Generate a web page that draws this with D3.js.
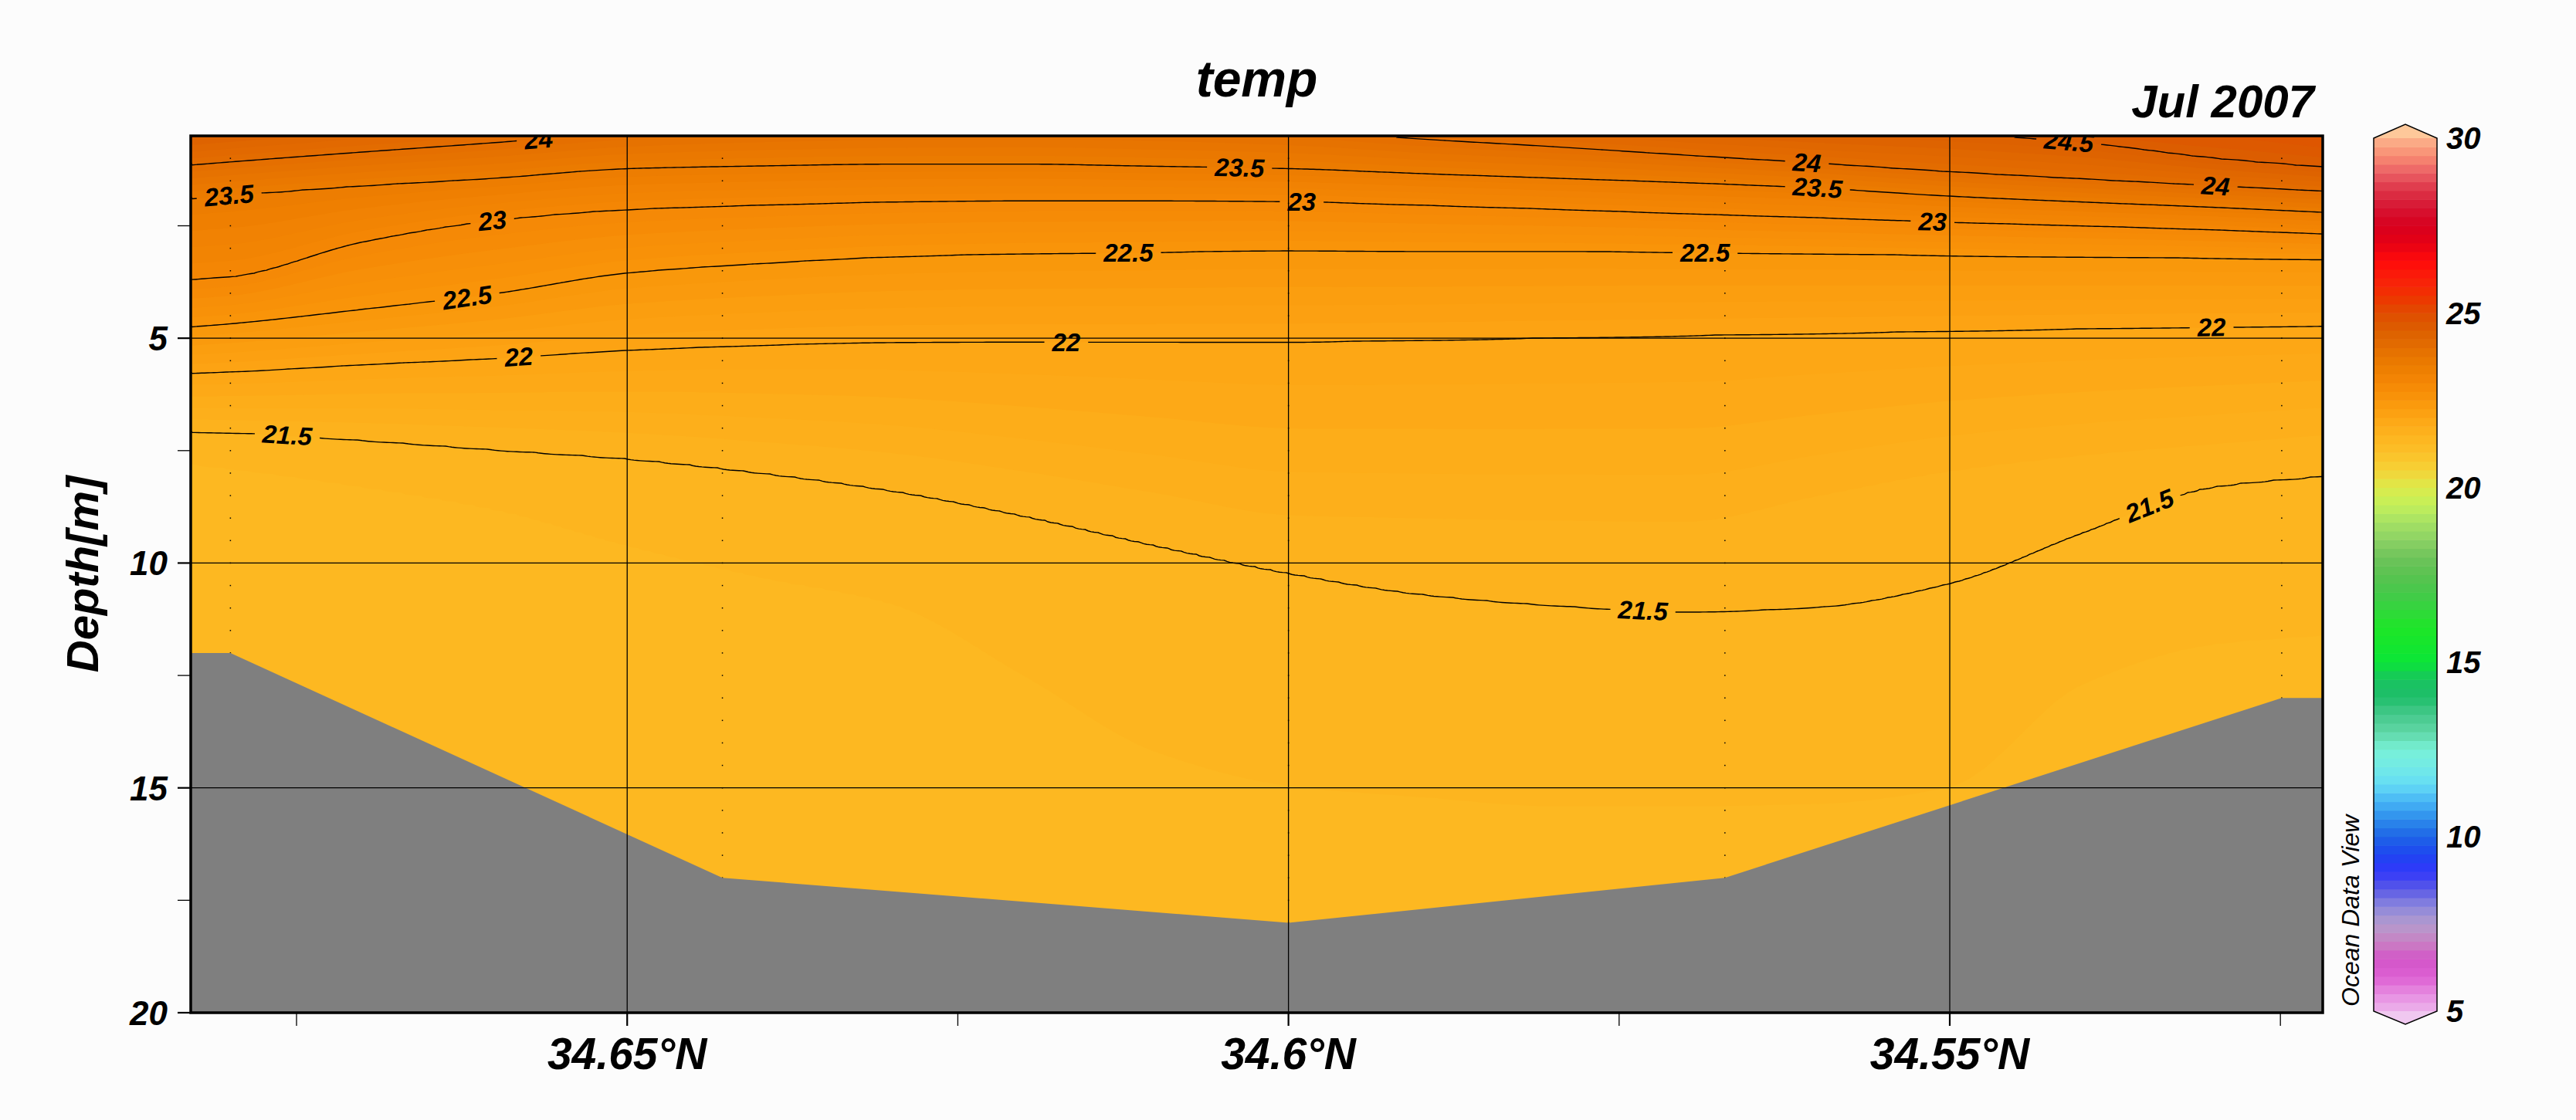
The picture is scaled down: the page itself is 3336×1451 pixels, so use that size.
<!DOCTYPE html>
<html><head><meta charset="utf-8">
<script src="https://cdn.jsdelivr.net/npm/d3@7"></script>
<style>
html,body{margin:0;padding:0;background:#fcfcfc;}
svg{display:block;}
text{font-family:"Liberation Sans",Arial,Helvetica,sans-serif;}
</style></head><body>
<svg id="chart" width="3336" height="1451"></svg>
<script>
// ---------------- DATA ----------------
// gridded section columns (latitude, °N)
const colLats = [34.683, 34.68, 34.67, 34.66, 34.65, 34.64, 34.63, 34.62, 34.61, 34.60, 34.59, 34.58, 34.57, 34.56, 34.55, 34.54, 34.53, 34.5218];
// depth (m) of each isotherm at every column, read from the section
// (values above 0.5 m lie above the top of the section)
const isoLevels = [25, 24.5, 24, 23.5, 23, 22.5, 22, 21.6, 21.5, 21.4, 21.3];
const iso250 = [-0.33, -0.41, -0.64, -0.85, -1.20, -1.48, -1.57, -1.65, -1.65, -1.37, -0.97, -0.66, -0.50, -0.41, -0.40, -0.16, -0.20, 0.10];
const iso245 = [0.41, 0.34, 0.11, -0.10, -0.39, -0.59, -0.67, -0.72, -0.71, -0.51, -0.20, 0.04, 0.21, 0.35, 0.45, 0.65, 1.00, 1.20];
const iso240 = [1.15, 1.08, 0.86, 0.65, 0.42, 0.29, 0.23, 0.20, 0.24, 0.36, 0.57, 0.74, 0.93, 1.11, 1.30, 1.46, 1.61, 1.73];
const iso235 = [1.89, 1.82, 1.61, 1.44, 1.23, 1.17, 1.13, 1.13, 1.18, 1.23, 1.34, 1.44, 1.54, 1.66, 1.84, 1.97, 2.09, 2.20];
const iso230 = [3.70, 3.64, 2.86, 2.38, 2.14, 2.04, 1.97, 1.94, 1.94, 1.96, 2.04, 2.13, 2.23, 2.32, 2.42, 2.50, 2.59, 2.68];
const iso225 = [4.75, 4.68, 4.36, 4.01, 3.55, 3.34, 3.19, 3.12, 3.09, 3.05, 3.07, 3.07, 3.09, 3.12, 3.16, 3.19, 3.22, 3.24];
const iso220 = [5.78, 5.75, 5.59, 5.45, 5.27, 5.16, 5.09, 5.08, 5.08, 5.08, 5.04, 4.99, 4.94, 4.89, 4.84, 4.79, 4.75, 4.73];
const iso216 = [6.80, 6.82, 6.88, 6.98, 7.10, 7.30, 7.55, 7.96, 8.44, 8.93, 9.00, 9.05, 9.07, 8.50, 7.95, 7.60, 7.35, 7.15];
const iso215 = [7.08, 7.10, 7.27, 7.48, 7.68, 7.99, 8.39, 8.95, 9.61, 10.22, 10.69, 10.94, 11.08, 10.98, 10.45, 9.33, 8.30, 8.06];
const iso214 = [7.80, 7.90, 8.30, 8.80, 9.60, 10.30, 10.90, 12.50, 14.20, 14.95, 15.20, 15.40, 15.40, 15.35, 14.97, 12.70, 11.80, 11.60];
const iso213 = [10.40, 10.50, 13.60, 18.00, 20.00, 21.00, 21.00, 21.00, 21.00, 22.00, 22.00, 22.00, 22.00, 22.00, 21.00, 20.00, 20.00, 20.00];

// stations and bottom depth
const stationLats   = [34.680, 34.6428, 34.600, 34.567, 34.5249];
const stationBottom = [12, 17, 18, 17, 13];
const sampleDepths  = [0.5,1,1.5,2,2.5,3,3.5,4,4.5,5,5.5,6,6.5,7,7.5,8,8.5,9,9.5,10,10.5,11,11.5,12,12.5,13,13.5,14,14.5,15,15.5,16,16.5,17,17.5,18];
const bathyLats     = [34.683, 34.680, 34.6428, 34.600, 34.567, 34.5249, 34.5218];
const bathyDepths   = [12, 12, 17, 18, 17, 13, 13];

// axes
const xTickMajor  = [34.65, 34.6, 34.55];
const xTickLabels = ["34.65°N", "34.6°N", "34.55°N"];
const xTickMinor  = [34.675, 34.625, 34.575, 34.525];
const yTickMajor  = [5, 10, 15, 20];
const yTickMinor  = [2.5, 7.5, 12.5, 17.5];
const yGrid       = [5, 10, 15];
const cbTicks     = [5, 10, 15, 20, 25, 30];

// contour lines and their labels
const contourLevels = [21.5, 22, 22.5, 23, 23.5, 24, 24.5];
const labelLevels = [24, 23.5, 23, 22.5, 22, 21.5, 23.5, 23, 22.5, 22, 21.5, 24, 23.5, 23, 22.5, 24.5, 24, 22, 21.5];
const labelLats   = [34.6567, 34.6801, 34.6602, 34.6621, 34.6582, 34.6757, 34.6037, 34.5990, 34.6121, 34.6168, 34.5732, 34.5608, 34.5600, 34.5513, 34.5685, 34.5410, 34.5299, 34.5302, 34.5349];

// ODV-like palette
const paletteValues = [5,5.5,6,6.5,7,7.5,8,8.5,9,9.5,10,10.5,11,11.5,12,12.5,13,13.5,14,14.5,15,15.5,16,16.5,17,17.5,18,18.5,19,19.5,20,20.5,21,21.5,22,22.5,23,23.5,24,24.5,25,25.5,26,26.5,27,27.5,28,28.5,29,29.5,30];
const paletteColors = ["#ecb4ec","#e68ce1","#dc5fd2","#d255c8","#c882c3","#b49bcd","#8c87dc","#5a5ae6","#3237fa","#1e46f0","#1e64e6","#2d8ceb","#46b4f5","#64dcf5","#73ebe6","#78f0d7","#5fd7a5","#46c88c","#1ebe69","#19c35f","#0ae637","#14e62d","#1ee628","#32d73c","#46c84b","#5ac350","#6ec35a","#8cd264","#a5e164","#c3f05a","#dceb4b","#f5d237","#fcc028","#fdb41e","#fda514","#f9960a","#f58705","#ec7c00","#e46e00","#dc5f00","#e04c00","#f03200","#fa1e0a","#ff0a0a","#e60014","#d7001e","#d71432","#dc3246","#eb5f64","#f88c73","#fcb48c"];

// ---------------- LAYOUT ----------------
const X0 = 247, X1 = 3008, Y0 = 176, Y1 = 1312;
const x = d3.scaleLinear().domain([34.683, 34.5218]).range([X0, X1]);
const y = d3.scaleLinear().domain([0.5, 20]).range([Y0, Y1]);
const color = d3.scaleLinear().domain(paletteValues).range(paletteColors).interpolate(d3.interpolateRgb).clamp(true);

const svg = d3.select("#chart");
svg.append("rect").attr("width", 3336).attr("height", 1451).attr("fill", "#fcfcfc");
const defs = svg.append("defs");
defs.append("clipPath").attr("id", "plotclip").append("rect")
  .attr("x", X0).attr("y", Y0).attr("width", X1 - X0).attr("height", Y1 - Y0);

// ---------------- FIELD ----------------
function monotoneSpline(xs, ys) {
  const n = xs.length, dx = [], s = [], m = new Array(n);
  for (let i = 0; i < n - 1; i++) { dx[i] = xs[i + 1] - xs[i]; s[i] = (ys[i + 1] - ys[i]) / dx[i]; }
  m[0] = s[0]; m[n - 1] = s[n - 2];
  for (let i = 1; i < n - 1; i++) {
    if (s[i - 1] * s[i] <= 0) m[i] = 0;
    else { const w1 = 2 * dx[i] + dx[i - 1], w2 = dx[i] + 2 * dx[i - 1]; m[i] = (w1 + w2) / (w1 / s[i - 1] + w2 / s[i]); }
  }
  return function (xv) {
    let i = 0;
    if (xv <= xs[0]) i = 0; else if (xv >= xs[n - 1]) i = n - 2;
    else while (i < n - 2 && xv > xs[i + 1]) i++;
    const h = dx[i], t = Math.max(0, Math.min(1, (xv - xs[i]) / h));
    const t2 = t * t, t3 = t2 * t;
    return (2 * t3 - 3 * t2 + 1) * ys[i] + (t3 - 2 * t2 + t) * h * m[i] + (-2 * t3 + 3 * t2) * ys[i + 1] + (t3 - t2) * h * m[i + 1];
  };
}
const colX = colLats.map(l => x(l));
const isoArrays = [iso250, iso245, iso240, iso235, iso230, iso225, iso220, iso216, iso215, iso214, iso213];
const splines = isoArrays.map(a => monotoneSpline(colX, a));
function knotsAt(px) {
  const ds = splines.map(f => f(px));
  for (let i = 1; i < ds.length; i++) if (ds[i] < ds[i - 1] + 0.01) ds[i] = ds[i - 1] + 0.01;
  return ds;
}
function profile(ds, d) {
  const L = isoLevels;
  if (d <= ds[0]) return L[0] + (L[1] - L[0]) * (d - ds[0]) / (ds[1] - ds[0]);
  for (let i = 1; i < ds.length; i++) {
    if (d <= ds[i]) return L[i - 1] + (L[i] - L[i - 1]) * (d - ds[i - 1]) / (ds[i] - ds[i - 1]);
  }
  return L[L.length - 1];
}
function field(lat, d) { return profile(knotsAt(x(lat)), d); }

const CW = 4;
const nx = Math.ceil((X1 - X0) / CW), ny = Math.ceil((Y1 - Y0) / CW);
const vals = new Float64Array(nx * ny);
let vmin = Infinity;
for (let i = 0; i < nx; i++) {
  const ds = knotsAt(X0 + (i + 0.5) * CW);
  for (let j = 0; j < ny; j++) {
    const v = profile(ds, y.invert(Y0 + (j + 0.5) * CW));
    vals[j * nx + i] = v;
    if (v < vmin) vmin = v;
  }
}
const gridPath = d3.geoPath(d3.geoTransform({
  point: function (px, py) { this.stream.point(X0 + px * CW, Y0 + py * CW); }
}));

const plot = svg.append("g").attr("clip-path", "url(#plotclip)");
plot.append("rect").attr("x", X0).attr("y", Y0).attr("width", X1 - X0).attr("height", Y1 - Y0)
  .attr("fill", color(vmin));
const bandTh = d3.range(200, 256).map(v => v / 10);
const bands = d3.contours().size([nx, ny]).thresholds(bandTh)(vals);
plot.append("g").selectAll("path").data(bands).join("path")
  .attr("d", gridPath).attr("fill", d => color(d.value + 0.05)).attr("stroke", "none");

// ---------------- CONTOUR LABELS ----------------
function isoDepth(level, lat) {
  let prev = field(lat, 0.5);
  for (let d = 0.51; d <= 20; d += 0.01) {
    const v = field(lat, d);
    if ((prev - level) * (v - level) <= 0) return d - 0.005;
    prev = v;
  }
  return null;
}
const labels = labelLevels.map((lv, i) => {
  const lat = labelLats[i];
  const px = x(lat);
  const dd = isoDepth(lv, lat);
  const dA = isoDepth(lv, x.invert(px - 14)), dB = isoDepth(lv, x.invert(px + 14));
  let ang = 0;
  if (dA != null && dB != null) ang = Math.atan2(y(dB) - y(dA), 28) * 180 / Math.PI;
  return { level: lv, px: px, py: y(dd == null ? 0.5 : dd), ang: ang };
});

const mask = defs.append("mask").attr("id", "lblmask").attr("maskUnits", "userSpaceOnUse")
  .attr("x", 0).attr("y", 0).attr("width", 3336).attr("height", 1451);
mask.append("rect").attr("x", 0).attr("y", 0).attr("width", 3336).attr("height", 1451).attr("fill", "white");

const lines = d3.contours().size([nx, ny]).thresholds(contourLevels)(vals);
plot.append("g").attr("mask", "url(#lblmask)").selectAll("path").data(lines).join("path")
  .attr("d", gridPath).attr("fill", "none").attr("stroke", "#000").attr("stroke-width", 1.4);

// station sample dots
const dots = [];
stationLats.forEach((lat, s) => sampleDepths.forEach(d => { if (d <= stationBottom[s]) dots.push([lat, d]); }));
plot.append("g").selectAll("rect").data(dots).join("rect")
  .attr("x", d => x(d[0]) - 0.75).attr("y", d => y(d[1]) - 0.75).attr("width", 1.5).attr("height", 1.5).attr("fill", "#000");

// bathymetry
const bathyPts = bathyLats.map((l, i) => [x(l), y(bathyDepths[i])]);
bathyPts.push([x(34.5218), y(20) + 5], [x(34.683), y(20) + 5]);
plot.append("path").attr("d", d3.line()(bathyPts) + "Z").attr("fill", "#7f7f7f");

// grid lines
plot.append("g").selectAll("line").data(xTickMajor).join("line")
  .attr("x1", d => x(d)).attr("x2", d => x(d)).attr("y1", Y0).attr("y2", Y1)
  .attr("stroke", "#000").attr("stroke-width", 1.3);
plot.append("g").selectAll("line").data(yGrid).join("line")
  .attr("x1", X0).attr("x2", X1).attr("y1", d => y(d)).attr("y2", d => y(d))
  .attr("stroke", "#000").attr("stroke-width", 1.3);

// labels text
const lblG = plot.append("g");
const lblText = lblG.selectAll("text").data(labels).join("text")
  .attr("transform", d => `translate(${d.px},${d.py}) rotate(${d.ang})`)
  .attr("text-anchor", "middle").attr("dy", "0.35em")
  .attr("font-size", 33).attr("font-weight", "bold").attr("font-style", "italic").attr("fill", "#000")
  .text(d => String(d.level));
lblText.each(function (d) {
  const w = this.getComputedTextLength();
  mask.append("rect").attr("x", -w / 2 - 10).attr("y", -16).attr("width", w + 20).attr("height", 32)
    .attr("fill", "black").attr("transform", `translate(${d.px},${d.py}) rotate(${d.ang})`);
});

// frame
svg.append("rect").attr("x", X0).attr("y", Y0).attr("width", X1 - X0).attr("height", Y1 - Y0)
  .attr("fill", "none").attr("stroke", "#000").attr("stroke-width", 3.5);

// ---------------- AXES ----------------
const ax = svg.append("g");
ax.selectAll("line.xM").data(xTickMajor).join("line").attr("class", "xM")
  .attr("x1", d => x(d)).attr("x2", d => x(d)).attr("y1", Y1).attr("y2", Y1 + 17)
  .attr("stroke", "#000").attr("stroke-width", 2.2);
ax.selectAll("line.xm").data(xTickMinor).join("line").attr("class", "xm")
  .attr("x1", d => x(d)).attr("x2", d => x(d)).attr("y1", Y1).attr("y2", Y1 + 17)
  .attr("stroke", "#000").attr("stroke-width", 1.3);
ax.selectAll("text.xl").data(xTickMajor).join("text").attr("class", "xl")
  .attr("x", d => x(d)).attr("y", 1385).attr("text-anchor", "middle")
  .attr("font-size", 57).attr("font-weight", "bold").attr("font-style", "italic")
  .text((d, i) => xTickLabels[i]);
ax.selectAll("line.yM").data(yTickMajor).join("line").attr("class", "yM")
  .attr("x1", X0 - 17).attr("x2", X0).attr("y1", d => y(d)).attr("y2", d => y(d))
  .attr("stroke", "#000").attr("stroke-width", 2.2);
ax.selectAll("line.ym").data(yTickMinor).join("line").attr("class", "ym")
  .attr("x1", X0 - 17).attr("x2", X0).attr("y1", d => y(d)).attr("y2", d => y(d))
  .attr("stroke", "#000").attr("stroke-width", 1.3);
ax.selectAll("text.yl").data(yTickMajor).join("text").attr("class", "yl")
  .attr("x", 217).attr("y", d => y(d)).attr("dy", "0.36em").attr("text-anchor", "end")
  .attr("font-size", 44).attr("font-weight", "bold").attr("font-style", "italic")
  .text(d => d);
svg.append("text").attr("transform", "translate(127,744) rotate(-90)").attr("text-anchor", "middle")
  .attr("font-size", 58).attr("font-weight", "bold").attr("font-style", "italic").text("Depth[m]");

// titles
svg.append("text").attr("x", (X0 + X1) / 2).attr("y", 125).attr("text-anchor", "middle")
  .attr("font-size", 66).attr("font-weight", "bold").attr("font-style", "italic").text("temp");
svg.append("text").attr("x", 2997).attr("y", 152).attr("text-anchor", "end")
  .attr("font-size", 60).attr("font-weight", "bold").attr("font-style", "italic").text("Jul 2007");

// ---------------- COLORBAR ----------------
const CB0 = 3074, CB1 = 3156;
const cb = d3.scaleLinear().domain([5, 30]).range([1310, 179]);
const cbSteps = d3.range(20, 120).map(v => v / 4);
const cbG = svg.append("g");
cbG.selectAll("rect").data(cbSteps).join("rect")
  .attr("x", CB0).attr("width", CB1 - CB0)
  .attr("y", d => cb(d + 0.25)).attr("height", d => cb(d) - cb(d + 0.25) + 0.6)
  .attr("fill", d => color(d + 0.125));
const mid = (CB0 + CB1) / 2;
cbG.append("path").attr("d", `M${CB0},${cb(30)} L${mid},${cb(30) - 18} L${CB1},${cb(30)} Z`).attr("fill", "#fec89a");
cbG.append("path").attr("d", `M${CB0},${cb(5)} L${mid},${cb(5) + 17} L${CB1},${cb(5)} Z`).attr("fill", "#f0c8f0");
cbG.append("path")
  .attr("d", `M${CB0},${cb(30)} L${mid},${cb(30) - 18} L${CB1},${cb(30)} L${CB1},${cb(5)} L${mid},${cb(5) + 17} L${CB0},${cb(5)} Z`)
  .attr("fill", "none").attr("stroke", "#000").attr("stroke-width", 1.5);
cbG.selectAll("text").data(cbTicks).join("text")
  .attr("x", 3168).attr("y", d => cb(d)).attr("dy", "0.36em")
  .attr("font-size", 40).attr("font-weight", "bold").attr("font-style", "italic").text(d => d);
svg.append("text").attr("transform", "translate(3055,1304) rotate(-90)")
  .attr("font-size", 32).attr("font-style", "italic").text("Ocean Data View");
</script>
</body></html>
